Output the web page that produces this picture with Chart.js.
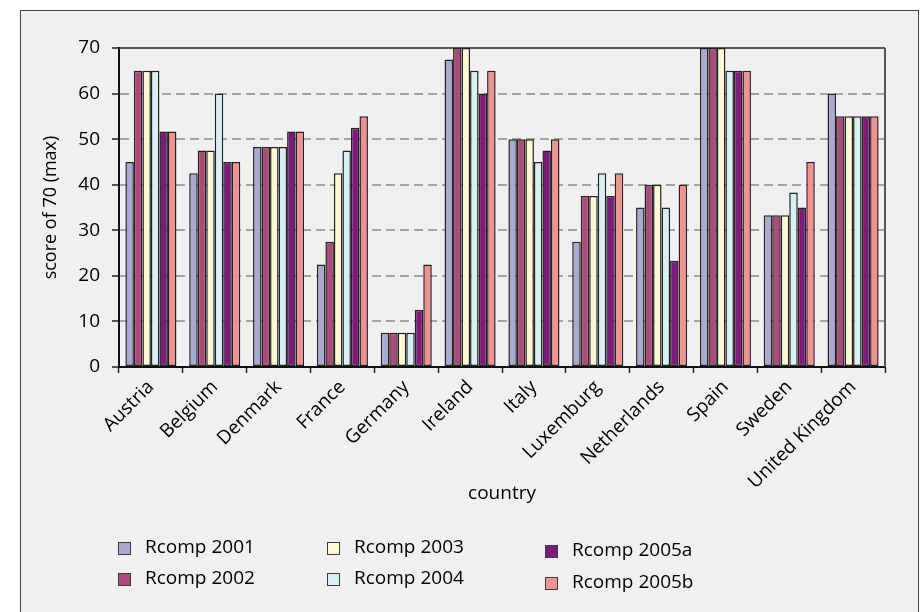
<!DOCTYPE html>
<html>
<head>
<meta charset="utf-8">
<script src="https://cdn.jsdelivr.net/npm/chart.js@4/dist/chart.umd.min.js"></script>
<style>
  html, body { margin: 0; padding: 0; background: #fff; overflow: hidden; }
  #frame {
    position: absolute; left: 20px; top: 10px; width: 897px; height: 700px;
    border: 1.5px solid #444; background: #eff0ef;
  }
  #wrap { position: absolute; left: 0; top: 0; width: 921px; height: 612px; }
  #legend { position: absolute; left: 0; top: 0; font-family: "Open Sans", sans-serif; font-size: 19px; color: #000; }
  .item { position: absolute; white-space: nowrap; line-height: 22px; }
  .item span.box {
    position: absolute; left: 0; top: 4px; width: 11px; height: 11px;
    border: 1.5px solid #3a3a3a;
  }
  .item span.txt { position: absolute; left: 27px; top: -3px; }
</style>
</head>
<body>
<div id="frame"></div>
<div id="wrap"><canvas id="rcomp" width="921" height="612"></canvas></div>
<div id="legend"></div>
<script>
var countries = ["Austria", "Belgium", "Denmark", "France", "Germany", "Ireland",
                 "Italy", "Luxemburg", "Netherlands", "Spain", "Sweden", "United Kingdom"];
var r2001  = [45,   42.5, 48.3, 22.5, 7.5,  67.5, 50,   27.5, 35,   70, 33.3, 60];
var r2002  = [65,   47.5, 48.3, 27.5, 7.5,  70,   50,   37.5, 40,   70, 33.3, 55];
var r2003  = [65,   47.5, 48.3, 42.5, 7.5,  70,   50,   37.5, 40,   70, 33.3, 55];
var r2004  = [65,   60,   48.3, 47.5, 7.5,  65,   45,   42.5, 35,   65, 38.3, 55];
var r2005a = [51.7, 45,   51.7, 52.5, 12.5, 60,   47.5, 37.5, 23.3, 65, 35,   55];
var r2005b = [51.7, 45,   51.7, 55,   22.5, 65,   50,   42.5, 40,   65, 45,   55];
var seriesNames = ["Rcomp 2001", "Rcomp 2002", "Rcomp 2003", "Rcomp 2004", "Rcomp 2005a", "Rcomp 2005b"];
var yTicks = [0, 10, 20, 30, 40, 50, 60, 70];

var colors = ["#aaaad0", "#ad4a7a", "#fff8d6", "#d8eff3", "#7c1c7a", "#f09292"];
var allSeries = [r2001, r2002, r2003, r2004, r2005a, r2005b];
var font = { family: "'Open Sans', sans-serif", size: 19 };
var titleFont = { family: "'Open Sans', sans-serif", size: 18 };

var datasets = allSeries.map(function(vals, i) {
    return {
        label: seriesNames[i],
        data: vals,
        backgroundColor: colors[i],
        borderColor: "#222",
        borderWidth: 1.5,
        borderSkipped: false,
        categoryPercentage: 0.8,
        barPercentage: 1.0
    };
});

// box round the plot area (top and right edges)
var plotBox = {
    id: 'plotBox',
    afterDatasetsDraw: function(chart) {
        var a = chart.chartArea, c = chart.ctx;
        c.save();
        c.strokeStyle = "#222";
        c.lineWidth = 1.5;
        c.beginPath();
        c.moveTo(a.left, a.top);
        c.lineTo(a.right, a.top);
        c.stroke();
        c.strokeStyle = "#555";
        c.lineWidth = 2;
        c.beginPath();
        c.moveTo(a.right, a.top);
        c.lineTo(a.right, a.bottom);
        c.stroke();
        c.restore();
    }
};

var ctx = document.getElementById('rcomp');
var myChart = new Chart(ctx, {
    type: 'bar',
    data: { labels: countries, datasets: datasets },
    plugins: [plotBox],
    options: {
        responsive: false,
        animation: false,
        layout: { padding: { left: 30, right: 36, top: 48, bottom: 107 } },
        plugins: { legend: { display: false }, tooltip: { enabled: false } },
        scales: {
            x: {
                grid: { offset: true, drawOnChartArea: false, tickLength: 6, tickColor: "#222", tickWidth: 1.5 },
                border: { color: "#111", width: 2 },
                ticks: { color: "#000", font: font, maxRotation: 45, minRotation: 45, padding: 3 },
                title: { display: true, text: "country", color: "#000", font: font, padding: { top: 0, bottom: 0 } },
                afterFit: function(s) { s.height = 138; }
            },
            y: {
                min: 0, max: 70,
                afterBuildTicks: function(s) { s.ticks = yTicks.map(function(v) { return { value: v }; }); },
                grid: {
                    color: function(c) { return (c.tick && (c.tick.value === 0 || c.tick.value === 70)) ? "rgba(0,0,0,0)" : "#a4a4a4"; },
                    lineWidth: 2,
                    tickLength: 7, tickColor: "#222", tickWidth: 1.5, tickBorderDash: []
                },
                border: { color: "#111", width: 2, dash: [9, 5] },
                ticks: { color: "#000", font: font, padding: 12 },
                title: { display: true, text: "score of 70 (max)", color: "#000", font: titleFont, padding: { top: 10, bottom: 0 } },
                afterFit: function(s) { s.width = 89; }
            }
        }
    }
});

// legend in three columns, filled top to bottom
var legendPos = [[118, 538], [118, 569], [327, 538], [327, 569], [545, 541], [545, 573]];
var legend = document.getElementById('legend');
seriesNames.forEach(function(name, i) {
    var el = document.createElement('div');
    el.className = 'item';
    el.style.left = legendPos[i][0] + 'px';
    el.style.top = legendPos[i][1] + 'px';
    el.innerHTML = '<span class="box" style="background:' + colors[i] + '"></span><span class="txt">' + name + '</span>';
    legend.appendChild(el);
});
</script>
</body>
</html>
